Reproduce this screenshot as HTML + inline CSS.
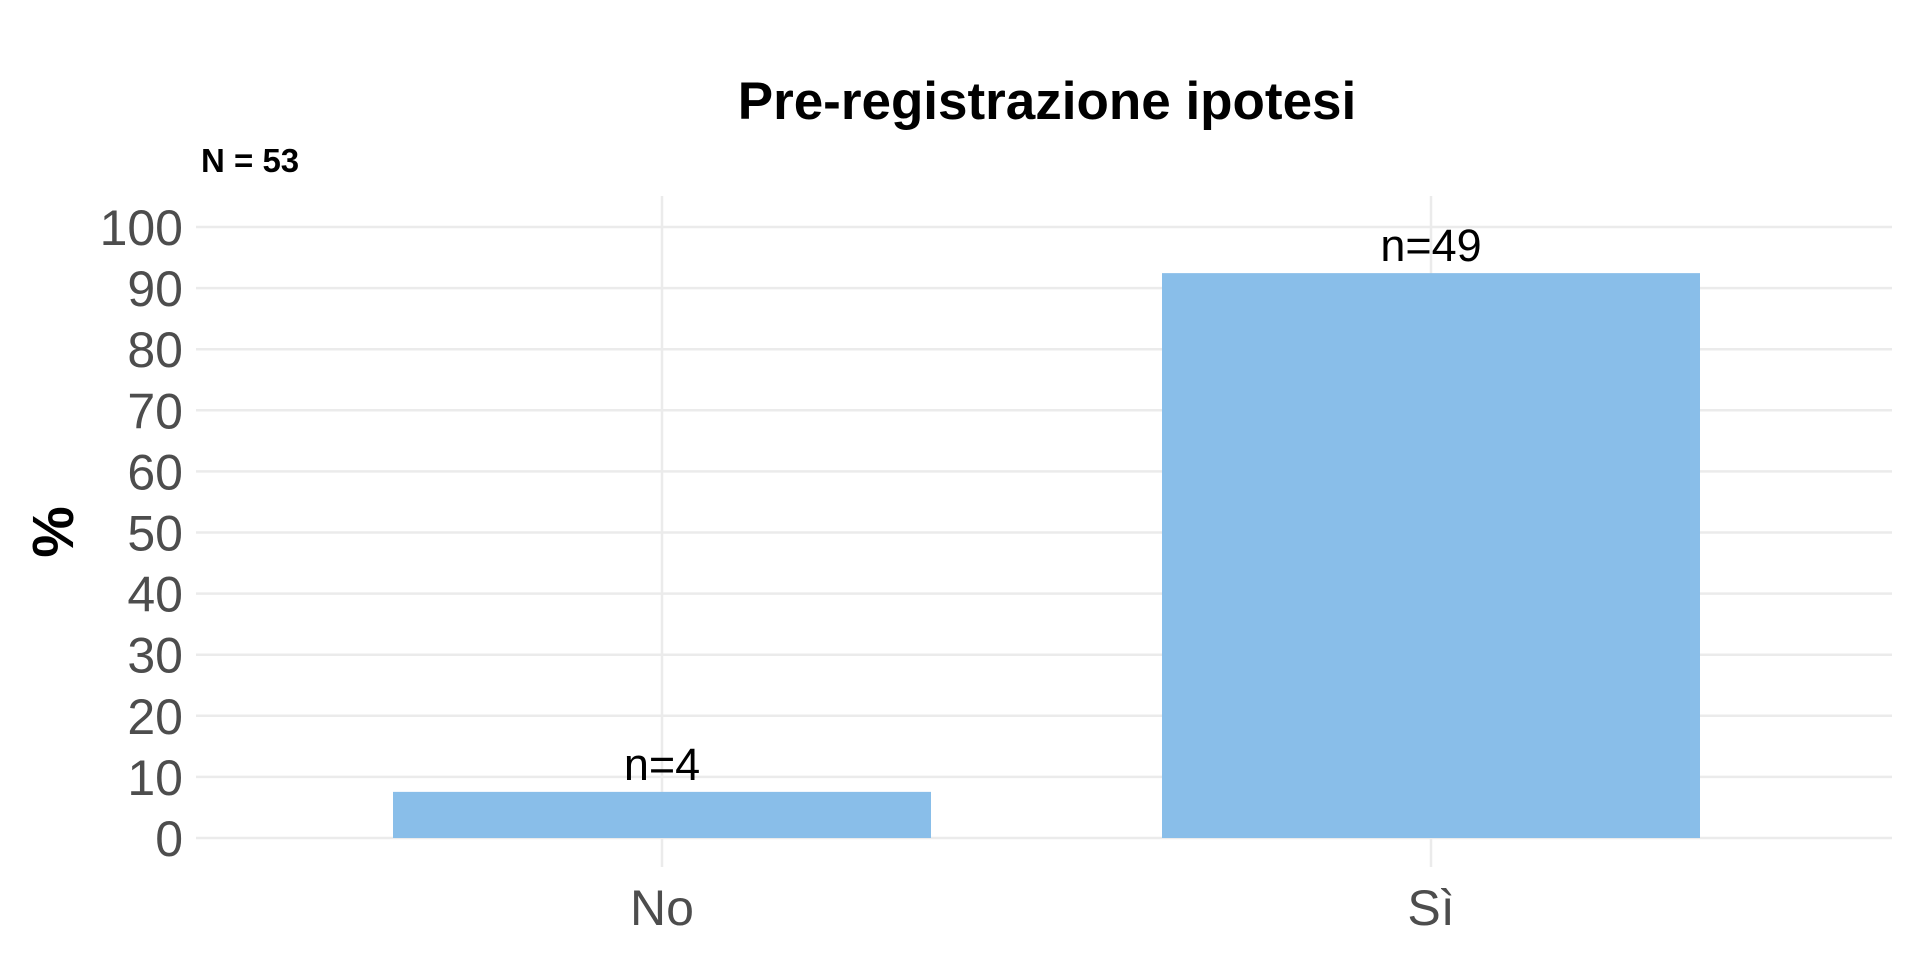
<!DOCTYPE html>
<html><head><meta charset="utf-8"><style>
html,body{margin:0;padding:0;background:#fff;}
svg{display:block;font-family:"Liberation Sans",Arial,sans-serif;}
</style></head><body>
<svg id="chart" width="1920" height="960" viewBox="0 0 1920 960">
<text x="1047" y="119" text-anchor="middle" font-size="53" font-weight="bold" fill="#000">Pre-registrazione ipotesi</text>
<text x="201" y="172" font-size="33" font-weight="bold" fill="#000">N = 53</text>
<text transform="translate(73,532) rotate(-90)" text-anchor="middle" font-size="58" font-weight="bold" fill="#000">%</text>
<g id="grid"></g><g id="bars"></g><g id="labels"></g>
</svg>
<script>
const categories = ["No", "Sì"];
const counts = [4, 49];
const percents = [7.55, 92.45];
const yTicks = [0,10,20,30,40,50,60,70,80,90,100];
const NS='http://www.w3.org/2000/svg';
const left=196,right=1892,y0=838,y100=227;
const y=v=>y0-(v/100)*(y0-y100);
function mk(t,a,p){const e=document.createElementNS(NS,t);for(const k in a)e.setAttribute(k,a[k]);p.appendChild(e);return e;}
const g=document.getElementById('grid'),b=document.getElementById('bars'),l=document.getElementById('labels');
const cx=i=>662+i*(1431-662);
yTicks.forEach(t=>{
  const ln=mk('line',{x1:left,x2:right,y1:y(t),y2:y(t),stroke:'#ebebeb','stroke-width':2.5},g);
  
  
  const tx=mk('text',{x:183,y:y(t)+18,'text-anchor':'end','font-size':50,fill:'#4d4d4d'},l);
  tx.textContent=t;
  
  
});
categories.forEach((c,i)=>{
  const x=cx(i);
  const vl=mk('line',{x1:x,x2:x,y1:196,y2:867,stroke:'#ebebeb','stroke-width':2.5},g);
  
  
  const r=mk('rect',{x:x-269,width:538,y:y(percents[i]),height:y0-y(percents[i]),fill:'#89bee9'},b);
  
  
  const nl=mk('text',{x:x,y:y(percents[i])-12,'text-anchor':'middle','font-size':45,fill:'#000'},l);
  nl.textContent='n='+counts[i];
  
  
  const xl=mk('text',{x:x,y:925,'text-anchor':'middle','font-size':50,fill:'#4d4d4d'},l);
  xl.textContent=c;
  
  
});
</script>
</body></html>
